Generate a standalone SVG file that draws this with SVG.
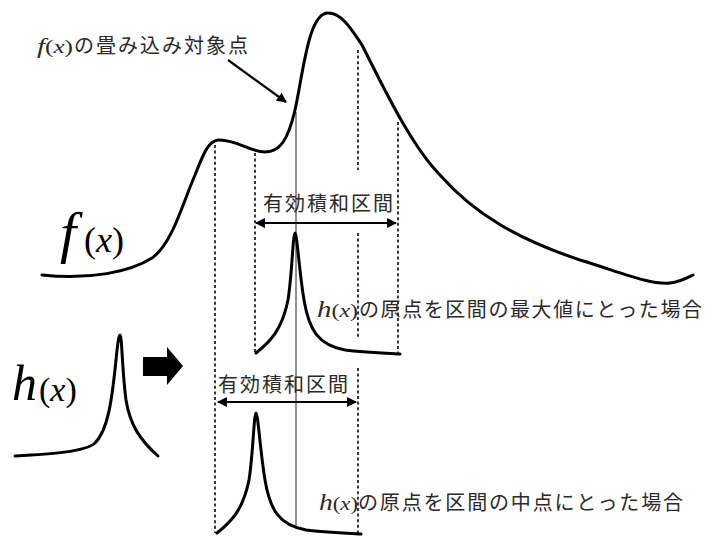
<svg xmlns="http://www.w3.org/2000/svg" width="707" height="538" viewBox="0 0 707 538">
<style>
.curve{fill:none;stroke:#000;stroke-width:3;stroke-linecap:round;stroke-linejoin:round}
.dash{stroke:#222;stroke-width:1.8;stroke-dasharray:3 2.6}
.solid{stroke:#222;stroke-width:1}
.jp{font-family:"Noto Sans CJK JP",sans-serif;fill:#2a2a2a}
.it{font-family:"Liberation Serif",serif;font-style:italic;fill:#2a2a2a}
.rm{font-family:"Liberation Serif",serif;fill:#2a2a2a}
.big{font-family:"Liberation Serif",serif;fill:#000}
.arr{stroke:#000;stroke-width:2.2;fill:none}
</style>
<defs>
<marker id="ah" viewBox="0 0 10 10" refX="9" refY="5" markerWidth="5" markerHeight="4.5" orient="auto-start-reverse" markerUnits="strokeWidth">
<path d="M0,0 L10,5 L0,10 z" fill="#000"/>
</marker>
<path id="peak" d="M256,353 C270,342 282,330 288,300 C292,275 293,233 295,233 C297,233 299,270 304,300 C309,330 318,345 345,350 C370,353 390,353 400,354"/>
</defs>
<rect width="707" height="538" fill="#fff"/>

<g id="guides">
<line class="dash" x1="215" y1="145" x2="215" y2="533"/>
<line class="dash" x1="255" y1="153" x2="255" y2="353"/>
<line class="solid" x1="296" y1="112" x2="296" y2="527"/>
<line class="dash" x1="358" y1="50" x2="358" y2="170"/>
<line class="dash" x1="358" y1="233" x2="358" y2="337"/>
<line class="dash" x1="358" y1="368" x2="358" y2="535"/>
<line class="dash" x1="398" y1="122" x2="398" y2="355"/>
</g>

<g id="fx">
<path class="curve" d="M42,275 C90,280 130,272 152,258 C172,244 182,205 195,175 C203,155 208,141 218,140 C236,139 250,152 265,152 C280,152 288,140 295,110 C303,75 308,13 328,13 C342,13 352,30 362,45 C380,80 410,145 440,175 C475,215 520,240 580,260 C620,272 650,285 670,283 C680,282 687,278 693,275"/>
<text class="big" x="60" y="252" font-size="58" font-style="italic">f</text>
<text class="big" x="84" y="252" font-size="36">(<tspan font-style="italic">x</tspan>)</text>
</g>

<g id="hx">
<path class="curve" d="M15,456 C50,454 85,452 95,443 C108,430 112,400 116,360 C118,340 119,335 120,335 C122,335 122,370 126,400 C130,425 140,440 158,456"/>
<text class="big" x="12" y="400" font-size="50" font-style="italic">h</text>
<text class="big" x="39" y="401" font-size="34">(<tspan font-style="italic">x</tspan>)</text>
</g>

<g id="block-arrow">
<polygon points="143,357 167,357 167,347 183,366 167,385 167,376 143,376" fill="#000"/>
</g>

<g id="label-target">
<text class="it" x="37" y="53" font-size="22" textLength="36" lengthAdjust="spacingAndGlyphs">f<tspan class="rm" font-size="19" font-style="normal">(</tspan><tspan font-size="19">x</tspan><tspan class="rm" font-size="19" font-style="normal">)</tspan></text>
<text class="jp" x="74" y="53" font-size="20" textLength="174" lengthAdjust="spacing">の畳み込み対象点</text>
</g>

<g id="upper-case">
<use href="#peak" class="curve"/>
<text class="jp" x="263" y="211" font-size="20" textLength="130" lengthAdjust="spacing">有効積和区間</text>
<text class="it" x="317" y="317" font-size="23" textLength="41" lengthAdjust="spacingAndGlyphs">h<tspan class="rm" font-size="19" font-style="normal">(</tspan><tspan font-size="19">x</tspan><tspan class="rm" font-size="19" font-style="normal">)</tspan></text>
<text class="jp" x="359" y="317" font-size="20" textLength="343" lengthAdjust="spacing">の原点を区間の最大値にとった場合</text>
</g>

<g id="lower-case">
<use href="#peak" class="curve" transform="translate(-39,180)"/>
<text class="jp" x="218" y="392" font-size="20" textLength="130" lengthAdjust="spacing">有効積和区間</text>
<text class="it" x="319" y="510" font-size="23" textLength="39" lengthAdjust="spacingAndGlyphs">h<tspan class="rm" font-size="19" font-style="normal">(</tspan><tspan font-size="19">x</tspan><tspan class="rm" font-size="19" font-style="normal">)</tspan></text>
<text class="jp" x="358" y="510" font-size="20" textLength="325" lengthAdjust="spacing">の原点を区間の中点にとった場合</text>
</g>

<g id="connectors">
<line class="arr" x1="228" y1="60" x2="286" y2="102" marker-end="url(#ah)"/>
<line class="arr" x1="256" y1="223" x2="396" y2="223" marker-start="url(#ah)" marker-end="url(#ah)"/>
<line class="arr" x1="218" y1="402" x2="356" y2="402" marker-start="url(#ah)" marker-end="url(#ah)"/>
</g>
</svg>
